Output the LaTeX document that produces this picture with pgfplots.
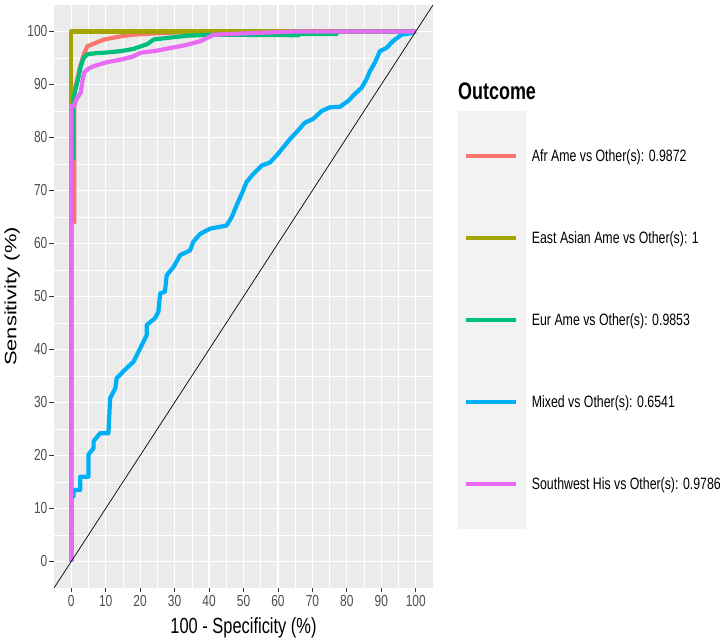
\documentclass[border=0pt]{standalone}
\usepackage{fontspec}
\setmainfont[FakeStretch=0.75]{Liberation Sans}
\newfontfamily\widesans{Liberation Sans}
\usepackage{graphicx}
\usepackage{pgfplots}
\pgfplotsset{compat=1.18}

\definecolor{panelgrey}{HTML}{EBEBEB}
\definecolor{keygrey}{HTML}{F2F2F2}
\definecolor{ticktext}{HTML}{4D4D4D}
\definecolor{tickmark}{HTML}{333333}
\definecolor{cAfr}{HTML}{F8766D}
\definecolor{cEast}{HTML}{A3A500}
\definecolor{cEur}{HTML}{00BF7D}
\definecolor{cMixed}{HTML}{00B0F6}
\definecolor{cSW}{HTML}{E76BF3}

\begin{document}
\begin{tikzpicture}
\path[use as bounding box] (0,0) rectangle (725bp,644bp);
\begin{axis}[
  at={(54bp,56bp)}, anchor=south west,
  scale only axis, width=379bp, height=583bp,
  xmin=-5, xmax=105, ymin=-5, ymax=105,
  xtick={0,10,...,100}, ytick={0,10,...,100},
  minor xtick={5,15,...,95}, minor ytick={5,15,...,95},
  grid=both,
  major grid style={white, line width=1.1bp},
  minor grid style={white, line width=0.55bp},
  axis background/.style={fill=panelgrey},
  axis line style={draw=none},
  tick align=outside, xtick pos=bottom, ytick pos=left,
  major tick length=4.5bp, minor tick length=0pt,
  tick style={tickmark, line width=0.8bp},
  ticklabel style={font=\fontsize{16}{18}\selectfont, text=ticktext},
  xticklabel style={inner sep=3bp},
  yticklabel style={inner sep=2bp},
  /pgf/number format/assume math mode=true,
  xlabel={100 - Specificity (\%)},
  xlabel style={font=\fontsize{22}{26}\selectfont, at={(axis description cs:0.5,-0.0686)}, anchor=center},
  ylabel={\scalebox{1}[0.75]{\widesans\fontsize{22}{26}\selectfont Sensitivity (\%)}},
  ylabel style={at={(axis description cs:-0.1108,0.5)}, anchor=center},
  every axis plot/.append style={line width=4.2bp, line join=round},
  legend cell align=left,
  legend style={at={(axis description cs:1.066,0.8115)}, anchor=north west,
    draw=none, fill=none, inner sep=0pt, outer sep=0pt,
    row sep=0pt, column sep=6bp,
    font=\fontsize{16.5}{19}\selectfont, nodes={inner sep=0pt}},
  legend image code/.code={
    \path (0bp,-38.95bp) rectangle (63.7bp,38.95bp);
    \fill[keygrey, overlay] (0bp,-43bp) rectangle (63.7bp,43bp);
    \draw[#1, line width=4.2bp] (6bp,0bp) -- (56bp,0bp);
  },
]

% Afr Ame vs Other(s)
\addplot[cAfr] coordinates {
 (0,0) (0,64) (0.9,64) (0.9,89) (1.6,90.5) (2.4,93) (3.8,96) (4.7,97.2)
 (6.5,97.7) (9.6,98.5) (14.4,99.1) (18,99.4) (23,99.6) (30,99.8)
 (38,100) (100,100)
};
\addlegendentry{Afr Ame vs Other(s): 0.9872}

% East Asian Ame vs Other(s)
\addplot[cEast] coordinates {(0,0) (0,100) (100,100)};
\addlegendentry{East Asian Ame vs Other(s): 1}

% Eur Ame vs Other(s)
\addplot[cEur] coordinates {
 (0,0) (0,76) (0.6,76) (0.6,87) (1.2,89) (2,91) (2.8,93.5) (3.6,95)
 (4.7,95.7) (7,95.9) (9.6,96) (14.4,96.3) (18,96.7) (20.2,97.2) (22,97.6)
 (24,98.5) (28,98.8) (33.7,99.2) (40.5,99.4) (66,99.3) (66,99.5) (77,99.5)
 (77,100) (100,100)
};
\addlegendentry{Eur Ame vs Other(s): 0.9853}

% Mixed vs Other(s)
\addplot[cMixed] coordinates {
 (0,0) (0,12.3) (0.7,12.3) (0.7,13.5) (2.6,13.5) (2.6,16) (5,16) (5,20.2)
 (6.5,21.4) (6.5,22.7) (8.4,24.2) (10.8,24.2) (11.3,30.8) (12.8,32.7)
 (13.2,34.6) (16.1,36.5) (18.1,37.7) (20,40.2) (21.9,42.7) (21.9,44.6)
 (24.3,45.9) (25.3,47.1) (25.8,50.6) (27.2,50.9) (27.7,54) (29.7,55.6)
 (31.6,57.8) (34.5,58.7) (35.4,60.3) (37.4,61.8) (40.3,62.8) (45.1,63.4)
 (46.6,65) (48,67.2) (49.5,69.4) (50.9,71.6) (52.8,73.1) (55.3,74.7)
 (57.7,75.3) (59.6,76.6) (61.5,78.1) (63.5,79.7) (65.4,81) (67.8,82.8)
 (70.2,83.5) (72.7,85) (75.1,85.7) (78,85.8) (80.4,86.9) (82.3,88.2)
 (84.3,89.4) (85.7,91) (86.7,92.5) (88.1,94.1) (89.6,96.3) (91.5,96.9)
 (93.4,98.2) (95.9,99.4) (98.8,99.7) (100,100)
};
\addlegendentry{Mixed vs Other(s): 0.6541}

% Southwest His vs Other(s)
\addplot[cSW] coordinates {
 (0,0) (0,86) (0.9,86) (1.5,87.2) (2.8,88.5) (3.2,90.5) (3.8,92.3)
 (5,93) (6.7,93.5) (10.3,94.2) (14.4,94.7) (18,95.3) (20.2,96) (25,96.4)
 (28.9,96.9) (33,97.4) (37.6,98.2) (41.4,99.4) (52.6,99.7) (65,100) (100,100)
};
\addlegendentry{Southwest His vs Other(s): 0.9786}

% chance diagonal
\addplot[black, line width=0.7bp, forget plot] coordinates {(-5,-5) (105,105)};
\end{axis}
\node[anchor=west, inner sep=0pt, font=\bfseries\fontsize{24}{28}\selectfont] at (458bp,552.3bp) {Outcome};
\end{tikzpicture}
\end{document}
